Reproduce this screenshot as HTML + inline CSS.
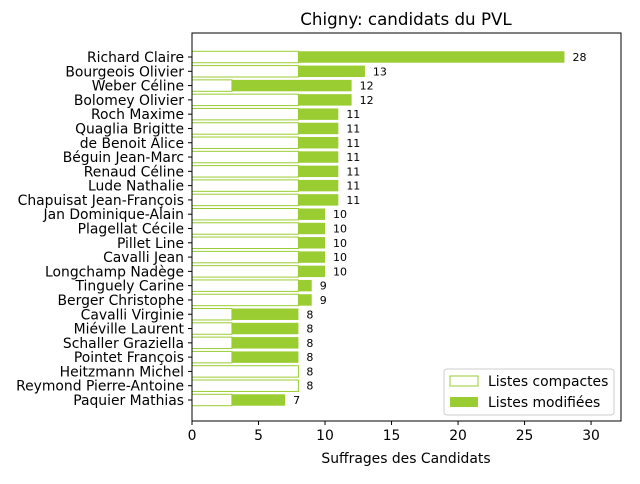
<!DOCTYPE html>
<html><head><meta charset="utf-8"><style>
body{margin:0;background:#fff;font-family:"DejaVu Sans","Liberation Sans",sans-serif}
svg text{font-family:"DejaVu Sans","Liberation Sans",sans-serif}
</style></head><body>
<svg id="c" width="640" height="480" xmlns="http://www.w3.org/2000/svg">
<text x="406" y="25" text-anchor="middle" font-size="16.7">Chigny: candidats du PVL</text>
<g id="plot"></g>
<rect x="192" y="33" width="429" height="388" fill="none" stroke="#000" stroke-width="1"/>
<text x="406" y="463" text-anchor="middle" font-size="13.9">Suffrages des Candidats</text>
<g>
<rect x="444" y="369" width="170" height="46" rx="3" fill="#fff" stroke="#ccc"/>
<rect x="450" y="376" width="28" height="10" fill="#fff" stroke="#9acd32"/>
<text x="488" y="386" font-size="13.9">Listes compactes</text>
<rect x="450" y="397" width="28" height="10" fill="#9acd32"/>
<text x="488" y="407" font-size="13.9">Listes modifiées</text>
</g>
</svg>
<script>
const names=["Richard Claire","Bourgeois Olivier","Weber Céline","Bolomey Olivier","Roch Maxime","Quaglia Brigitte","de Benoit Alice","Béguin Jean-Marc","Renaud Céline","Lude Nathalie","Chapuisat Jean-François","Jan Dominique-Alain","Plagellat Cécile","Pillet Line","Cavalli Jean","Longchamp Nadège","Tinguely Carine","Berger Christophe","Cavalli Virginie","Miéville Laurent","Schaller Graziella","Pointet François","Heitzmann Michel","Reymond Pierre-Antoine","Paquier Mathias"];
const compactes=[8,8,3,8,8,8,8,8,8,8,8,8,8,8,8,8,8,8,3,3,3,3,8,8,3];
const modifiees=[20,5,9,4,3,3,3,3,3,3,3,2,2,2,2,2,1,1,5,5,5,5,0,0,4];
const xTicks=[0,5,10,15,20,25,30];
const NS="http://www.w3.org/2000/svg";
const g=document.getElementById('plot');
const x0=192,xmax=32.25,pw=429,y0=33,ph=388;
const X=v=>x0+v/xmax*pw;
const step=(400-57)/24;
const Y=i=>57+i*step;
const bh=step*0.8;
function mk(t,a){const e=document.createElementNS(NS,t);for(const k in a)e.setAttribute(k,a[k]);g.appendChild(e);return e;}
names.forEach((n,i)=>{
 const c=compactes[i],m=modifiees[i],yc=Y(i);
 let r=mk('rect',{x:X(0),y:yc-bh/2,width:X(c)-X(0),height:bh,fill:'#fff',stroke:'#9acd32','stroke-width':1});
 
 
 if(m>0){r=mk('rect',{x:X(c),y:yc-bh/2,width:X(c+m)-X(c),height:bh,fill:'#9acd32'});
 
 }
 let t=mk('text',{x:X(c+m)+8,y:yc+4,'font-size':11});t.textContent=c+m;
 
 
 mk('line',{x1:x0-4,x2:x0,y1:yc,y2:yc,stroke:'#000'});
 t=mk('text',{x:x0-8,y:yc+5,'font-size':13.9,'text-anchor':'end'});t.textContent=n;
 
 
});
xTicks.forEach(v=>{
 mk('line',{x1:X(v),x2:X(v),y1:y0+ph,y2:y0+ph+4,stroke:'#000'});
 const t=mk('text',{x:X(v),y:y0+ph+19,'font-size':13.9,'text-anchor':'middle'});t.textContent=v;
 
 
});
</script>
</body></html>
